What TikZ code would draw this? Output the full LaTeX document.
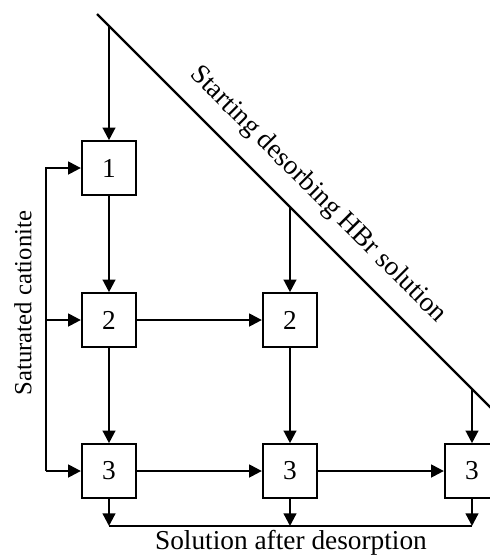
\documentclass[tikz,border=0pt]{standalone}
\usepackage{fontspec}
\setmainfont{Liberation Serif}
\usetikzlibrary{arrows.meta}

\tikzset{
	cell/.style={draw, line width=1.7pt, minimum width=40.5pt, minimum height=40pt, inner sep=0pt, font=\fontsize{20.5}{24}\selectfont},
	pipe/.style={line width=1.7pt, line join=miter},
	flow/.style={pipe, -{Triangle[length=9.5pt,width=9.5pt]}},
	lbl/.style={inner sep=0pt, font=\fontsize{20.5}{24}\selectfont}
}

\begin{document}
\begin{tikzpicture}[x=0.75pt,y=0.75pt,yscale=-1,xscale=1]
	\useasboundingbox (0,0) rectangle (490,558);
	
	% Columns
	\node[cell] (c1) at (109,168) {1};
	\node[cell] (c2) at (109,320) {2};
	\node[cell] (c3) at (109,471) {3};
	\node[cell] (c2b) at (290,320) {2};
	\node[cell] (c3b) at (290,471) {3};
	\node[cell] (c3c) at (472,471) {3};
	
	% Feed line
	\coordinate (ftop) at (97,14);
	\coordinate (fend) at (505,422);
	\coordinate (f1) at (109,26);
	\coordinate (f2) at (290,207);
	\coordinate (f3) at (472,389);
	\draw[pipe] (ftop) -- (fend);
	\draw[flow] (f1) -- (c1);
	\draw[flow] (f2) -- (c2b);
	\draw[flow] (f3) -- (c3c);
	
	% Down the columns
	\draw[flow] (c1) -- (c2);
	\draw[flow] (c2) -- (c3);
	\draw[flow] (c2b) -- (c3b);
	
	% Across
	\draw[flow] (c2) -- (c2b);
	\draw[flow] (c3) -- (c3b);
	\draw[flow] (c3b) -- (c3c);
	
	% Cationite in
	\coordinate (s1) at (46,168);
	\coordinate (s3) at (46,471);
	\draw[flow] (s3) -- (s1) -- (c1);
	\draw[flow] (s1 |- c2) -- (c2);
	\draw[flow] (s3) -- (c3);
	
	% Solution out
	\coordinate (o1) at (109,526);
	\coordinate (o3) at (472,526);
	\draw[pipe] (o1) -- (o3);
	\draw[flow] (c3) -- (c3 |- o1);
	\draw[flow] (c3b) -- (c3b |- o1);
	\draw[flow] (c3c) -- (c3c |- o1);
	
	% Text Node
	\node[lbl, rotate=90, font=\fontsize{18.5}{22}\selectfont] (inlet) at (23,303) {Saturated cationite};
	% Text Node
	\node[lbl] (outlet) at (291,543) {Solution after desorption};
	% Text Node
	\node[lbl, rotate=-45] (feed) at (318,195) {Starting desorbing HBr solution};
\end{tikzpicture}
\end{document}
